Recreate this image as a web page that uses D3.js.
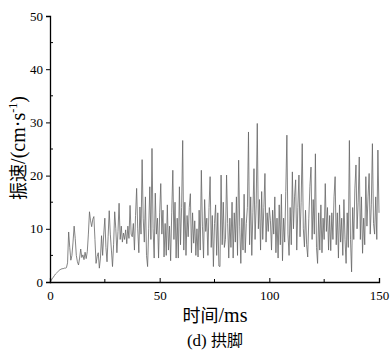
<!DOCTYPE html>
<html>
<head>
<meta charset="utf-8">
<script src="https://cdn.jsdelivr.net/npm/d3@7"></script>
<style>
  html, body { margin: 0; padding: 0; background: #fff; }
  svg { display: block; }
</style>
</head>
<body>
<div class="chart"></div>
<script>
// sampled vibration velocity (cm/s), one sample every 0.5 ms
const sampleStep = 0.5;
const velocity = [
  0, 0.3, 0.6, 0.9, 1.2, 1.5, 1.7, 1.9, 2.1, 2.3, 2.4, 2.5, 2.5, 2.6, 2.6, 2.7, 3.6, 9.4, 6.5, 4.1,
  5.0, 7.5, 10.5, 8.2, 5.0, 3.8, 3.2, 4.5, 6.2, 4.6, 5.1, 4.2, 5.6, 4.4, 5.7, 9.0, 13.2, 11.5, 10.4, 11.8,
  12.3, 8.0, 3.5, 4.8, 5.5, 2.6, 4.5, 8.7, 5.0, 9.0, 12.0, 6.5, 3.8, 8.5, 13.4, 9.0, 6.0, 2.9, 7.0, 13.2,
  10.0, 5.5, 9.5, 14.8, 8.0, 10.5, 7.5, 9.2, 8.0, 9.8, 7.2, 10.5, 8.2, 14.4, 9.0, 8.5, 11.0, 6.0, 12.5, 17.6,
  10.0, 5.5, 14.1, 9.0, 23.0, 12.0, 7.5, 16.0, 5.0, 2.9, 10.0, 17.9, 8.0, 25.1, 10.0, 4.5, 16.7, 9.0, 12.0, 4.5,
  13.0, 18.5, 9.0, 13.5, 4.7, 11.0, 5.0, 14.5, 6.0, 10.5, 4.0, 13.0, 21.0, 8.0, 15.0, 4.5, 12.0, 4.5, 17.9, 7.0,
  14.0, 26.6, 6.0, 15.0, 5.0, 12.5, 8.5, 14.0, 16.6, 5.5, 13.0, 7.3, 11.5, 5.0, 10.0, 4.7, 13.5, 6.0, 21.0, 10.5,
  4.5, 15.5, 9.5, 12.0, 5.0, 14.0, 19.8, 6.5, 12.5, 2.9, 11.0, 14.5, 5.0, 13.0, 3.0, 2.9, 20.1, 7.0, 15.0, 6.5,
  8.0, 20.1, 11.0, 4.5, 12.0, 6.5, 15.0, 4.5, 13.0, 7.5, 16.0, 5.0, 22.9, 10.5, 3.5, 12.0, 6.0, 16.5, 5.5, 11.0,
  14.0, 28.2, 7.0, 16.0, 5.0, 13.0, 21.3, 8.0, 14.5, 29.8, 10.0, 15.5, 6.0, 17.0, 8.0, 14.0, 20.4, 7.5, 13.0, 9.5,
  14.0, 11.5, 6.0, 13.5, 9.0, 16.0, 5.5, 12.0, 4.5, 14.5, 7.0, 16.5, 4.0, 12.0, 7.5, 17.0, 27.6, 9.0, 5.0, 14.0,
  7.0, 20.7, 10.0, 16.0, 19.2, 6.0, 14.0, 20.1, 8.5, 15.0, 26.0, 10.0, 6.6, 13.5, 7.0, 4.7, 12.0, 18.0, 21.6, 8.0,
  15.5, 9.0, 24.1, 6.5, 3.5, 13.0, 6.0, 14.5, 5.5, 12.0, 8.0, 18.5, 9.5, 14.0, 6.0, 12.5, 5.9, 13.0, 8.0, 16.0,
  19.8, 7.0, 13.0, 4.5, 14.5, 7.5, 12.0, 5.0, 15.5, 8.0, 3.5, 13.0, 6.5, 26.6, 8.0, 1.9, 14.0, 8.0, 17.5, 22.0,
  10.0, 15.0, 23.5, 8.0, 16.0, 5.4, 12.0, 7.0, 19.8, 10.5, 16.0, 20.4, 9.0, 14.5, 26.0, 11.0, 9.0, 16.0, 8.0, 24.8,
  13.0
];
const xTicks = [0, 50, 100, 150];
const xMinor = [25, 75, 125];
const yTicks = [0, 10, 20, 30, 40, 50];
const yMinor = [5, 15, 25, 35, 45];
const xTitle = '时间/ms';
const caption = '(d) 拱脚';

const width = 390, height = 353;
const margin = { top: 16, right: 11, bottom: 71, left: 50 };
const serif = '"Liberation Serif", "Times New Roman", serif';
const cjk = '"Noto Sans CJK SC", sans-serif';

const svg = d3.select('.chart').append('svg')
  .attr('width', width).attr('height', height);

const x = d3.scaleLinear().domain([0, 150]).range([margin.left, width - margin.right]);
const y = d3.scaleLinear().domain([0, 50]).range([height - margin.bottom, margin.top]);

// data line
const line = d3.line()
  .x((d, i) => x(i * sampleStep))
  .y(d => y(d));

svg.append('path')
  .datum(velocity)
  .attr('fill', 'none')
  .attr('stroke', '#666')
  .attr('stroke-width', 0.8)
  .attr('stroke-linejoin', 'round')
  .attr('d', line);

// x axis
const xAxis = svg.append('g')
  .attr('transform', 'translate(0,' + y(0) + ')')
  .call(d3.axisBottom(x).tickValues(xTicks).tickSize(-4).tickPadding(9));
xAxis.append('g').selectAll('line').data(xMinor).join('line')
  .attr('x1', d => x(d)).attr('x2', d => x(d))
  .attr('y1', 0).attr('y2', -3)
  .attr('stroke', '#000');

// y axis
const yAxis = svg.append('g')
  .attr('transform', 'translate(' + x(0) + ',0)')
  .call(d3.axisLeft(y).tickValues(yTicks).tickSize(4).tickPadding(3));
yAxis.append('g').selectAll('line').data(yMinor).join('line')
  .attr('y1', d => y(d)).attr('y2', d => y(d))
  .attr('x1', 0).attr('x2', 3)
  .attr('stroke', '#000');

svg.selectAll('.domain').attr('stroke', '#000').attr('stroke-width', 1.3);
svg.selectAll('.tick line').attr('stroke', '#000').attr('stroke-width', 1);
svg.selectAll('.tick text')
  .attr('font-family', serif)
  .attr('font-size', 13)
  .attr('fill', '#000');

// x title and caption
svg.append('text')
  .attr('x', 215).attr('y', 322)
  .attr('text-anchor', 'middle')
  .attr('font-size', 18)
  .attr('fill', '#000')
  .call(t => {
    t.append('tspan').attr('font-family', cjk).text('时间');
    t.append('tspan').attr('font-family', serif).attr('font-size', 20).text('/ms');
  });

svg.append('text')
  .attr('x', 215).attr('y', 346)
  .attr('text-anchor', 'middle')
  .attr('font-size', 16)
  .attr('fill', '#000')
  .call(t => {
    t.append('tspan').attr('font-family', serif).attr('font-size', 17).text('(d) ');
    t.append('tspan').attr('font-family', cjk).text('拱脚');
  });

// y title, rotated
const yTitle = svg.append('text')
  .attr('transform', 'translate(25,148) rotate(-90)')
  .attr('text-anchor', 'middle')
  .attr('font-size', 18)
  .attr('fill', '#000');
yTitle.append('tspan').attr('font-family', cjk).text('振速');
yTitle.append('tspan').attr('font-family', serif).attr('font-size', 20).text('/(cm·s');
yTitle.append('tspan').attr('font-family', serif).attr('font-size', 12).attr('dy', -8).text('-1');
yTitle.append('tspan').attr('font-family', serif).attr('font-size', 20).attr('dy', 8).text(')');
</script>
</body>
</html>
